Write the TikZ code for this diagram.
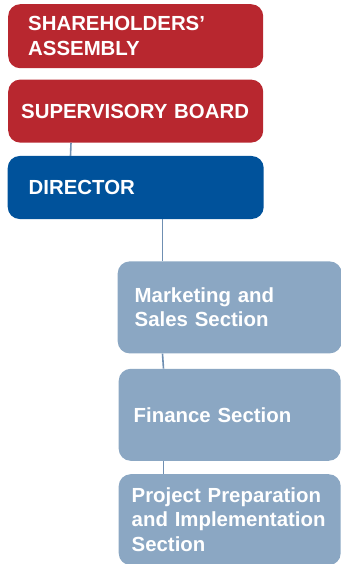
\documentclass[tikz,border=0pt]{standalone}
\usepackage{fontspec}
\setmainfont{Liberation Sans}
\usepackage{xcolor}
\usetikzlibrary{positioning}

\definecolor{boardred}{HTML}{B8272F}
\definecolor{directorblue}{HTML}{00529B}
\definecolor{sectiongrey}{HTML}{8BA7C3}
\definecolor{linkgrey}{HTML}{6F8FB2}

\begin{document}
\begin{tikzpicture}[
    x=1pt, y=1pt,
    every node/.style={font=\bfseries\fontsize{20.4}{24.5}\selectfont, text=white, align=left},
    boardbox/.style={fill=boardred, rounded corners=12pt, minimum width=255pt, minimum height=63pt,
        text width=215pt, inner xsep=20pt, inner ysep=0pt},
    dirbox/.style={boardbox, fill=directorblue},
    sectionbox/.style={fill=sectiongrey, rounded corners=12pt, minimum width=222pt, minimum height=92pt,
        text width=192pt, inner xsep=15pt, inner ysep=0pt},
    link/.style={draw=linkgrey, line width=1.6pt}
]
\useasboundingbox (0,0) rectangle (340,-564);

\node[boardbox, minimum height=64pt, anchor=north west] (sa) at (8,-4) {SHAREHOLDERS'\\ASSEMBLY};
\node[boardbox, below=11pt of sa, text width=229pt, inner xsep=13pt] (sb) {SUPERVISORY BOARD};
\node[dirbox, below=13pt of sb, text width=214pt, inner xsep=21pt] (dir) {DIRECTOR};

\node[sectionbox, below=42pt of dir.south west, anchor=north west, xshift=110pt,
    text width=190pt, inner xsep=17pt] (mkt) {Marketing and\\Sales Section};
\node[sectionbox, below=15pt of mkt] (fin) {Finance Section};
\node[sectionbox, below=13pt of fin, minimum height=91pt, text width=196pt, inner xsep=13pt] (prj)
    {Project Preparation\\and Implementation\\Section};

% connectors
\draw[link] ([xshift=63pt]sb.south west) -- ([xshift=63pt]dir.north west);
\draw[link] ([xshift=45pt]mkt.north west |- dir.south) -- ([xshift=45pt]mkt.north west);
\draw[link] ([xshift=45pt]mkt.south west) -- ([xshift=45pt]fin.north west);
\draw[link] ([xshift=45pt]fin.south west) -- ([xshift=45pt]prj.north west);
\end{tikzpicture}
\end{document}
